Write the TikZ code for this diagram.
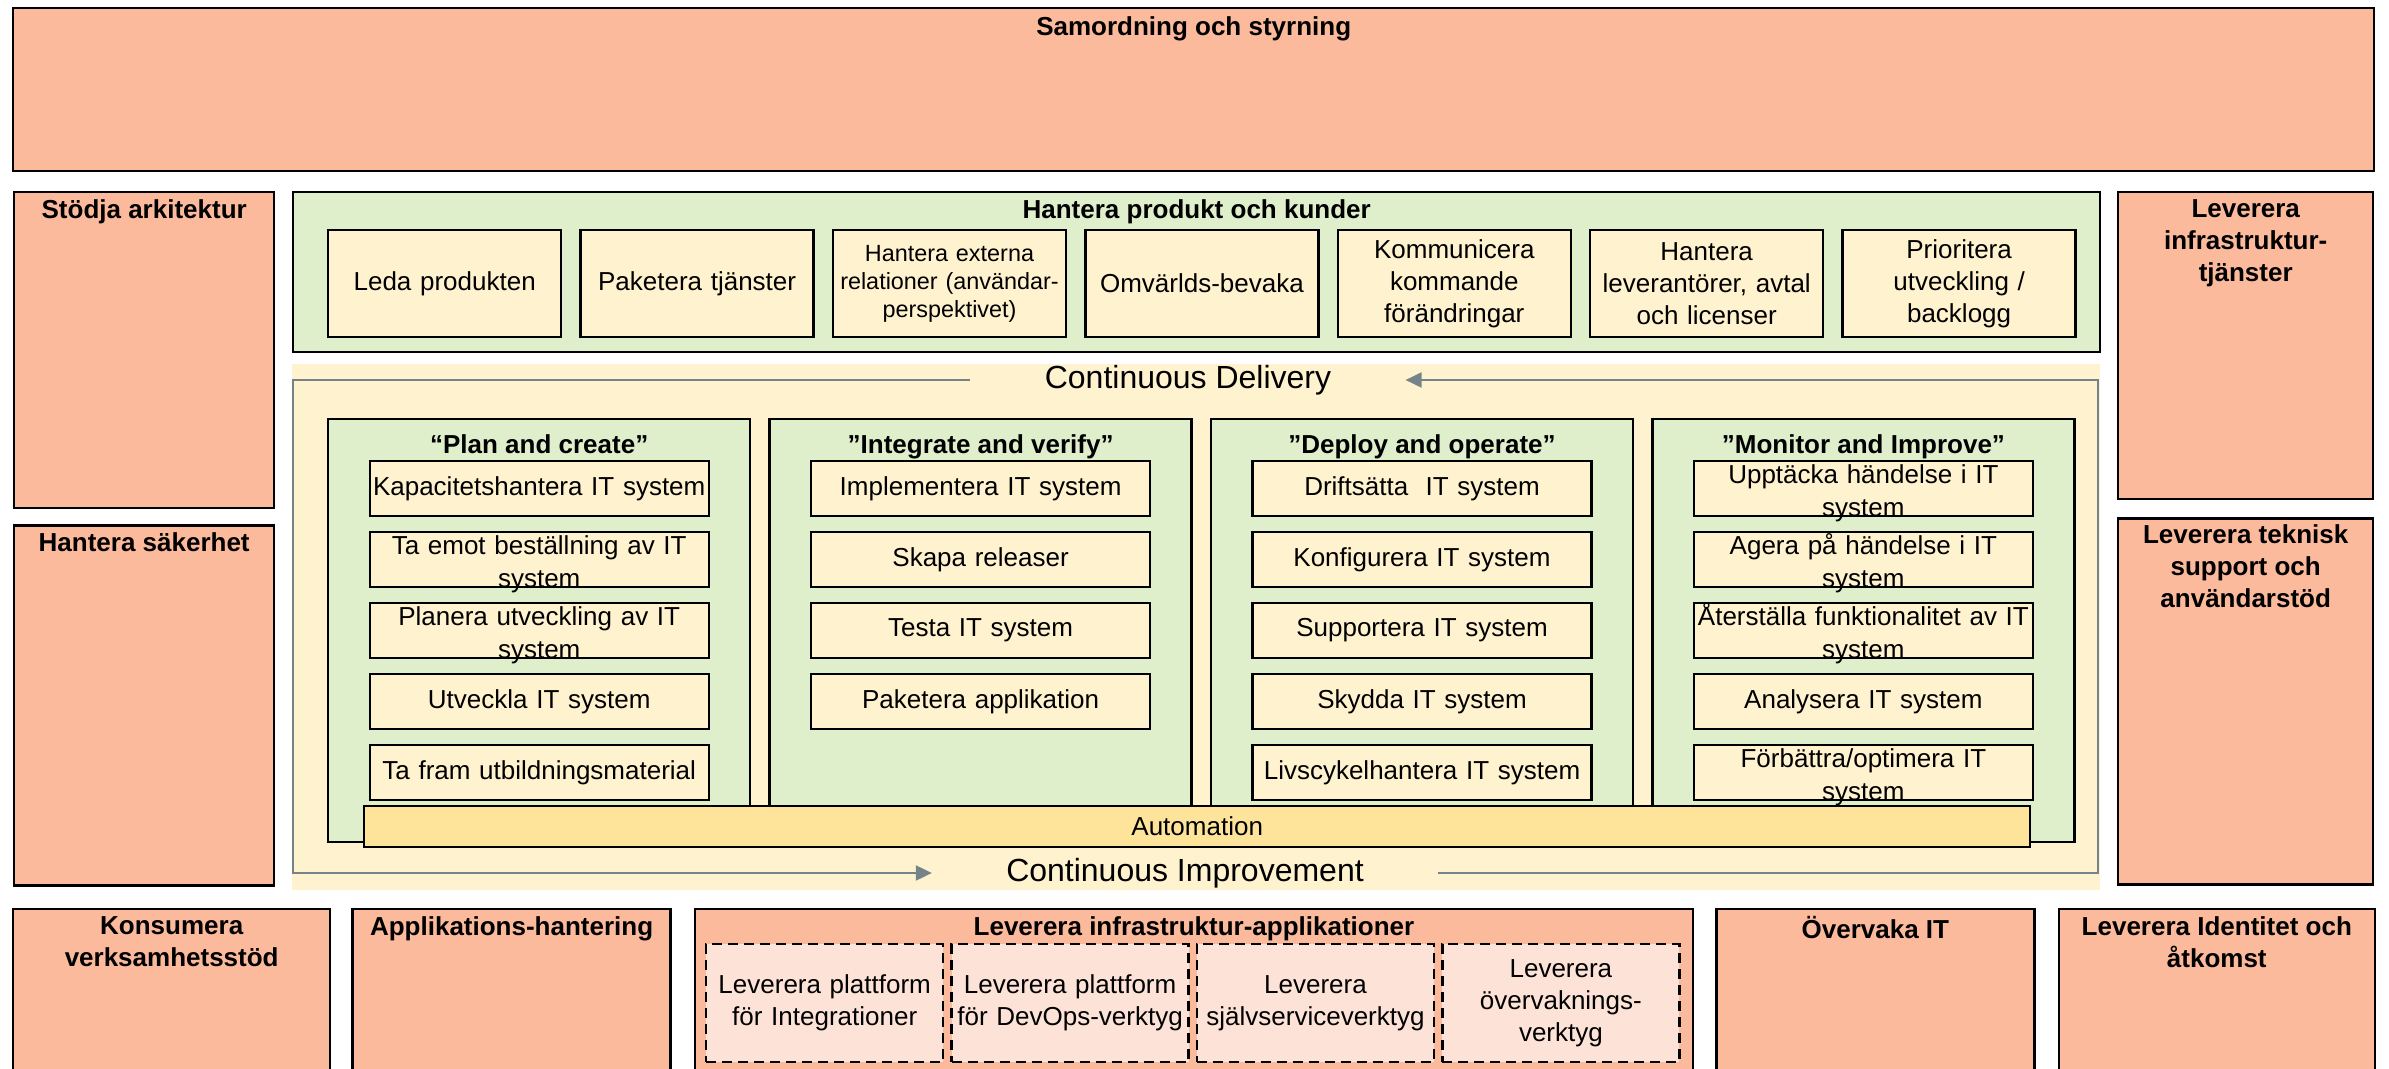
\documentclass[tikz,border=0pt]{standalone}
\usepackage{fontspec}
\setmainfont{Liberation Sans}
\usepackage{xcolor}
\definecolor{areaSalmon}{HTML}{FCBA9C}
\definecolor{groupGreen}{HTML}{DFEFCC}
\definecolor{flowCream}{HTML}{FFF2CF}
\definecolor{autoGold}{HTML}{FEE49B}
\definecolor{platformPink}{HTML}{FDE3D7}
\definecolor{loopGray}{HTML}{76848A}
\usepackage{tikz}
\usetikzlibrary{positioning,arrows.meta}
\newcommand{\upperGap}{\rule{0pt}{14pt}}
\tikzset{%
  areaBox/.style={%
    rectangle,
    draw=black,
    line width=1.2pt,
    fill=areaSalmon,
    anchor=north west,
    inner sep=0pt
  },
  groupBox/.style={%
    rectangle,
    draw=black,
    line width=1.2pt,
    fill=groupGreen,
    anchor=north west,
    inner sep=0pt
  },
  flowArea/.style={%
    rectangle,
    fill=flowCream,
    anchor=north west,
    inner sep=0pt
  },
  headText/.style={%
    font=\bfseries\fontsize{13}{16}\selectfont,
    align=center,
    inner sep=0pt
  },
  taskBox/.style={%
    rectangle,
    draw=black,
    line width=1.2pt,
    fill=flowCream,
    minimum width=169.5pt,
    minimum height=27.5pt,
    text width=168pt,
    inner xsep=0.5pt,
    inner ysep=-3.5pt,
    align=center,
    font=\fontsize{13}{16.5}\selectfont
  },
  productBox/.style={%
    taskBox,
    minimum width=116.5pt,
    minimum height=53.5pt,
    text width=115pt,
    inner ysep=0pt,
    font=\fontsize{13}{16}\selectfont
  },
  autoBox/.style={%
    rectangle,
    draw=black,
    line width=1.2pt,
    fill=autoGold,
    minimum width=833pt,
    minimum height=20.5pt,
    inner sep=0pt,
    font=\fontsize{13}{16}\selectfont
  },
  platformBox/.style={%
    rectangle,
    draw=black,
    dash pattern=on 5pt off 3pt,
    line width=1.2pt,
    fill=platformPink,
    minimum width=118.5pt,
    minimum height=59pt,
    text width=117pt,
    inner xsep=0.75pt,
    align=center,
    font=\fontsize{13}{16}\selectfont
  },
  loopLine/.style={%
    -{Triangle[length=8pt,width=7.5pt]},
    line width=1pt,
    color=loopGray
  },
  loopText/.style={%
    font=\fontsize{16}{19}\selectfont,
    inner xsep=37pt,
    inner ysep=0pt
  }
}

\begin{document}
\begin{tikzpicture}[x=0.5pt, y=-0.5pt]
            \clip (0,0) rectangle (2389,1069);

            \node[areaBox, minimum width=1180.5pt, minimum height=81.5pt] (samordning) at (12,7) {};
            \node[headText, below=4.5pt of samordning.north] (samordningTitle) {Samordning och styrning};

            \node[areaBox, minimum width=130pt, minimum height=158pt] (stodja) at (13,191) {};
            \node[headText, below=4pt of stodja.north] (stodjaTitle) {Stödja arkitektur};
            \node[areaBox, below=7.5pt of stodja, minimum width=130pt, minimum height=180pt] (sakerhet) {};
            \node[headText, below=4pt of sakerhet.north] (sakerhetTitle) {Hantera säkerhet};

            \node[areaBox, minimum width=127.5pt, minimum height=153.5pt] (levInfra) at (2117,191) {};
            \node[headText, below=4pt of levInfra.north] (levInfraTitle) {Leverera\\infrastruktur-\\tjänster};
            \node[areaBox, below=8.5pt of levInfra, minimum width=127.5pt, minimum height=183pt] (levSupport) {};
            \node[headText, below=3.5pt of levSupport.north] (levSupportTitle) {Leverera teknisk\\support och\\användarstöd};

            \node[groupBox, minimum width=903.5pt, minimum height=80pt] (produkt) at (292,191) {};
            \node[headText, below=4pt of produkt.north] (produktTitle) {Hantera produkt och kunder};
            \node[productBox, anchor=north west] (prodA) at (327,229) {Leda produkten};
            \node[productBox, right=8.5pt of prodA] (prodB) {Paketera tjänster};
            \node[productBox, right=8.5pt of prodB, font=\fontsize{11.7}{14}\selectfont] (prodC) {Hantera externa\\relationer (användar-\\perspektivet)};
            \node[productBox, right=8.5pt of prodC] (prodD) {Omvärlds-bevaka};
            \node[productBox, right=8.5pt of prodD] (prodE) {Kommunicera\\kommande\\förändringar};
            \node[productBox, right=8.5pt of prodE] (prodF) {Hantera\\leverantörer, avtal\\och licenser};
            \node[productBox, right=8.5pt of prodF] (prodG) {Prioritera\\utveckling /\\backlogg};

            \node[flowArea, minimum width=904pt, minimum height=263pt] (flow) at (292,364) {};
            \coordinate (loopNW) at (293,380);
            \coordinate (loopNE) at (2098,380);
            \coordinate (loopSW) at (293,873);
            \coordinate (loopSE) at (2098,873);
            \node[loopText] (delivery) at (1188,380) {Continuous Delivery};
            \node[loopText] (improvement) at (1185,873) {Continuous Improvement};
            \draw[loopLine] (improvement) -- (loopSE) -- (loopNE) -- (delivery);
            \draw[loopLine] (delivery) -- (loopNW) -- (loopSW) -- (improvement);

            \node[groupBox, minimum width=211pt, minimum height=211.5pt] (plan) at (327,418) {};
            \node[groupBox, right=8.5pt of plan, minimum width=211pt, minimum height=211.5pt] (integrate) {};
            \node[groupBox, right=8.5pt of integrate, minimum width=211pt, minimum height=211.5pt] (deploy) {};
            \node[groupBox, right=8.5pt of deploy, minimum width=211pt, minimum height=211.5pt] (monitor) {};
            \node[headText, below=8pt of plan.north] (planTitle) {“Plan and create”};
            \node[headText, below=8pt of integrate.north] (integrateTitle) {”Integrate and verify”};
            \node[headText, below=8pt of deploy.north] (deployTitle) {”Deploy and operate”};
            \node[headText, below=8pt of monitor.north] (monitorTitle) {”Monitor and Improve”};

            \node[taskBox, below=21pt of plan.north] (planA) {Kapacitetshantera IT system};
            \node[taskBox, below=6.75pt of planA] (planB) {\upperGap Ta emot beställning av IT\\system};
            \node[taskBox, below=6.75pt of planB] (planC) {\upperGap Planera utveckling av IT\\system};
            \node[taskBox, below=6.75pt of planC] (planD) {Utveckla IT system};
            \node[taskBox, below=6.75pt of planD] (planE) {Ta fram utbildningsmaterial};

            \node[taskBox, below=21pt of integrate.north] (integA) {Implementera IT system};
            \node[taskBox, below=6.75pt of integA] (integB) {Skapa releaser};
            \node[taskBox, below=6.75pt of integB] (integC) {Testa IT system};
            \node[taskBox, below=6.75pt of integC] (integD) {Paketera applikation};

            \node[taskBox, below=21pt of deploy.north] (deployA) {Driftsätta\ \ IT system};
            \node[taskBox, below=6.75pt of deployA] (deployB) {Konfigurera IT system};
            \node[taskBox, below=6.75pt of deployB] (deployC) {Supportera IT system};
            \node[taskBox, below=6.75pt of deployC] (deployD) {Skydda IT system};
            \node[taskBox, below=6.75pt of deployD] (deployE) {Livscykelhantera IT system};

            \node[taskBox, below=21pt of monitor.north] (monA) {\upperGap Upptäcka händelse i IT\\system};
            \node[taskBox, below=6.75pt of monA] (monB) {\upperGap Agera på händelse i IT\\system};
            \node[taskBox, below=6.75pt of monB] (monC) {\upperGap Återställa funktionalitet av IT\\system};
            \node[taskBox, below=6.75pt of monC] (monD) {Analysera IT system};
            \node[taskBox, below=6.75pt of monD] (monE) {\upperGap Förbättra/optimera IT\\system};

            \node[autoBox, anchor=north west] (automation) at (363,805) {Automation};

            \node[areaBox, minimum width=158.5pt, minimum height=85pt] (konsumera) at (12,908) {};
            \node[headText, below=4pt of konsumera.north] (konsumeraTitle) {Konsumera\\verksamhetsstöd};
            \node[areaBox, right=10pt of konsumera, minimum width=159pt, minimum height=85pt] (applikation) {};
            \node[headText, below=4pt of applikation.north] (applikationTitle) {Applikations-hantering};
            \node[areaBox, right=11pt of applikation, minimum width=499pt, minimum height=85pt] (levApp) {};
            \node[headText, below=4pt of levApp.north] (levAppTitle) {Leverera infrastruktur-applikationer};
            \node[areaBox, right=10.5pt of levApp, minimum width=159pt, minimum height=85pt] (overvaka) {};
            \node[headText, below=4pt of overvaka.north] (overvakaTitle) {Övervaka IT};
            \node[areaBox, right=11pt of overvaka, minimum width=158pt, minimum height=85pt] (identitet) {};
            \node[headText, below=4pt of identitet.north] (identitetTitle) {Leverera Identitet och\\åtkomst};

            \node[platformBox, anchor=north west] (platA) at (705,943) {Leverera plattform\\för Integrationer};
            \node[platformBox, right=3pt of platA] (platB) {Leverera plattform\\för DevOps-verktyg};
            \node[platformBox, right=3pt of platB] (platC) {Leverera\\självserviceverktyg};
            \node[platformBox, right=3pt of platC] (platD) {Leverera\\övervaknings-\\verktyg};
        \end{tikzpicture}
\end{document}
